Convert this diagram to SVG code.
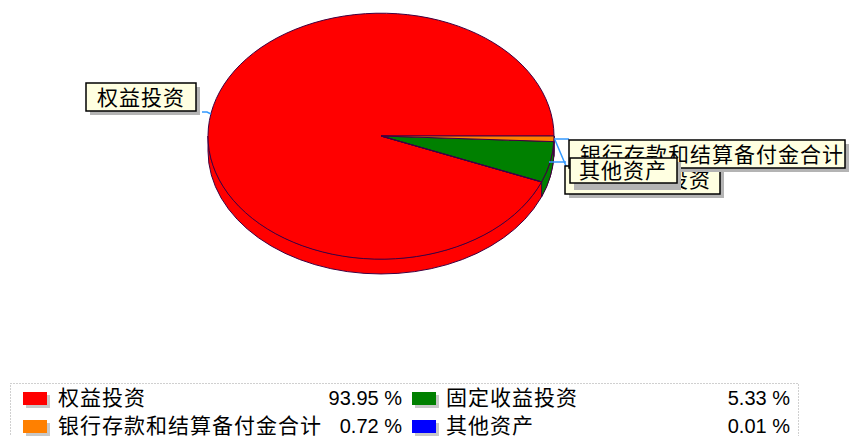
<svg xmlns="http://www.w3.org/2000/svg" width="851" height="436" viewBox="0 0 851 436">
<style>
.cjk{font-family:"Liberation Sans","Noto Sans CJK SC",sans-serif;font-size:21px;letter-spacing:1px;fill:#000}
.num{font-family:"Liberation Sans",Arial,sans-serif;font-size:20px;fill:#000;text-anchor:end}
.sl{stroke:#400040;stroke-width:1;stroke-linejoin:round}
.box{fill:#FFFFE1;stroke:#000;stroke-width:1.5}
.sh{fill:#B4B4B4}
.lead{fill:none;stroke:#3399FF;stroke-width:1.5}
.sw-sh{fill:#C8C8C8}
</style>
<rect width="851" height="436" fill="#fff"/>
<g id="pie">
  <path class="sl" fill="#FF0000" d="M208,136 A173,123 0 0 0 554,136 L554,151 A173,123 0 0 1 208,151 Z"/>
  <path class="sl" fill="#008000" d="M553.82,141.6 A173,123 0 0 1 541.63,181.87 L541.63,196.87 A173,123 0 0 0 553.82,156.6 Z"/>
  <path class="sl" fill="#FF8000" d="M554,136 A173,123 0 0 1 553.82,141.6 L553.82,156.6 A173,123 0 0 0 554,151 Z"/>
  <path class="sl" fill="#FF0000" d="M381,136 L541.63,181.87 A173,123 0 1 1 554,136 Z"/>
  <path class="sl" fill="#008000" d="M381,136 L553.82,141.6 A173,123 0 0 1 541.63,181.87 Z"/>
  <path class="sl" fill="#FF8000" d="M381,136 L554,136 A173,123 0 0 1 553.82,141.6 Z"/>
  <path class="sl" fill="#0000FF" d="M381,136 L541.63,181.87 L541.5,182 Z"/>
</g>
<g id="connectors">
  <polyline class="lead" points="202,112 207,112 211,114"/>
  <polyline class="lead" points="554,139 569,139"/>
  <polyline class="lead" points="555,140 566,166 568,182"/>
  <polyline class="lead" points="549,162 566,162"/>
</g>
<g id="label-fixed">
  <rect class="sh" x="569" y="170" width="155" height="28"/>
  <rect class="box" x="565" y="166" width="155" height="28"/>
  <text class="cjk" x="579" y="187">固定收益投资</text>
</g>
<g id="label-equity">
  <rect class="sh" x="90" y="87" width="110" height="28"/>
  <rect class="box" x="86" y="83" width="110" height="28"/>
  <text class="cjk" x="97" y="105">权益投资</text>
</g>
<g id="label-bank">
  <rect class="sh" x="573" y="144" width="276" height="28"/>
  <rect class="box" x="569" y="140" width="276" height="28"/>
  <text class="cjk" x="580" y="162">银行存款和结算备付金合计</text>
</g>
<g id="label-other">
  <rect class="sh" x="574" y="162" width="107" height="28"/>
  <rect class="box" x="570" y="158" width="107" height="25"/>
  <text class="cjk" x="579" y="178">其他资产</text>
</g>
<g id="legend">
  <rect x="10.5" y="383.5" width="788" height="70" fill="none" stroke="#A0A0A0" stroke-width="1" stroke-dasharray="1,2"/>
  <g id="legend-equity">
    <rect class="sw-sh" x="26" y="395" width="24" height="13"/>
    <rect x="23" y="392" width="24" height="13" fill="#FF0000"/>
    <text class="cjk" x="58" y="405">权益投资</text>
    <text class="num" x="402" y="405">93.95 %</text>
  </g>
  <g id="legend-bank">
    <rect class="sw-sh" x="26" y="423" width="24" height="13"/>
    <rect x="23" y="420" width="24" height="13" fill="#FF8000"/>
    <text class="cjk" x="58" y="433">银行存款和结算备付金合计</text>
    <text class="num" x="402" y="433">0.72 %</text>
  </g>
  <g id="legend-fixed">
    <rect class="sw-sh" x="415" y="395" width="24" height="13"/>
    <rect x="412" y="392" width="24" height="13" fill="#008000"/>
    <text class="cjk" x="446" y="405">固定收益投资</text>
    <text class="num" x="790" y="405">5.33 %</text>
  </g>
  <g id="legend-other">
    <rect class="sw-sh" x="415" y="423" width="24" height="13"/>
    <rect x="412" y="420" width="24" height="13" fill="#0000FF"/>
    <text class="cjk" x="446" y="433">其他资产</text>
    <text class="num" x="790" y="433">0.01 %</text>
  </g>
</g>
</svg>
